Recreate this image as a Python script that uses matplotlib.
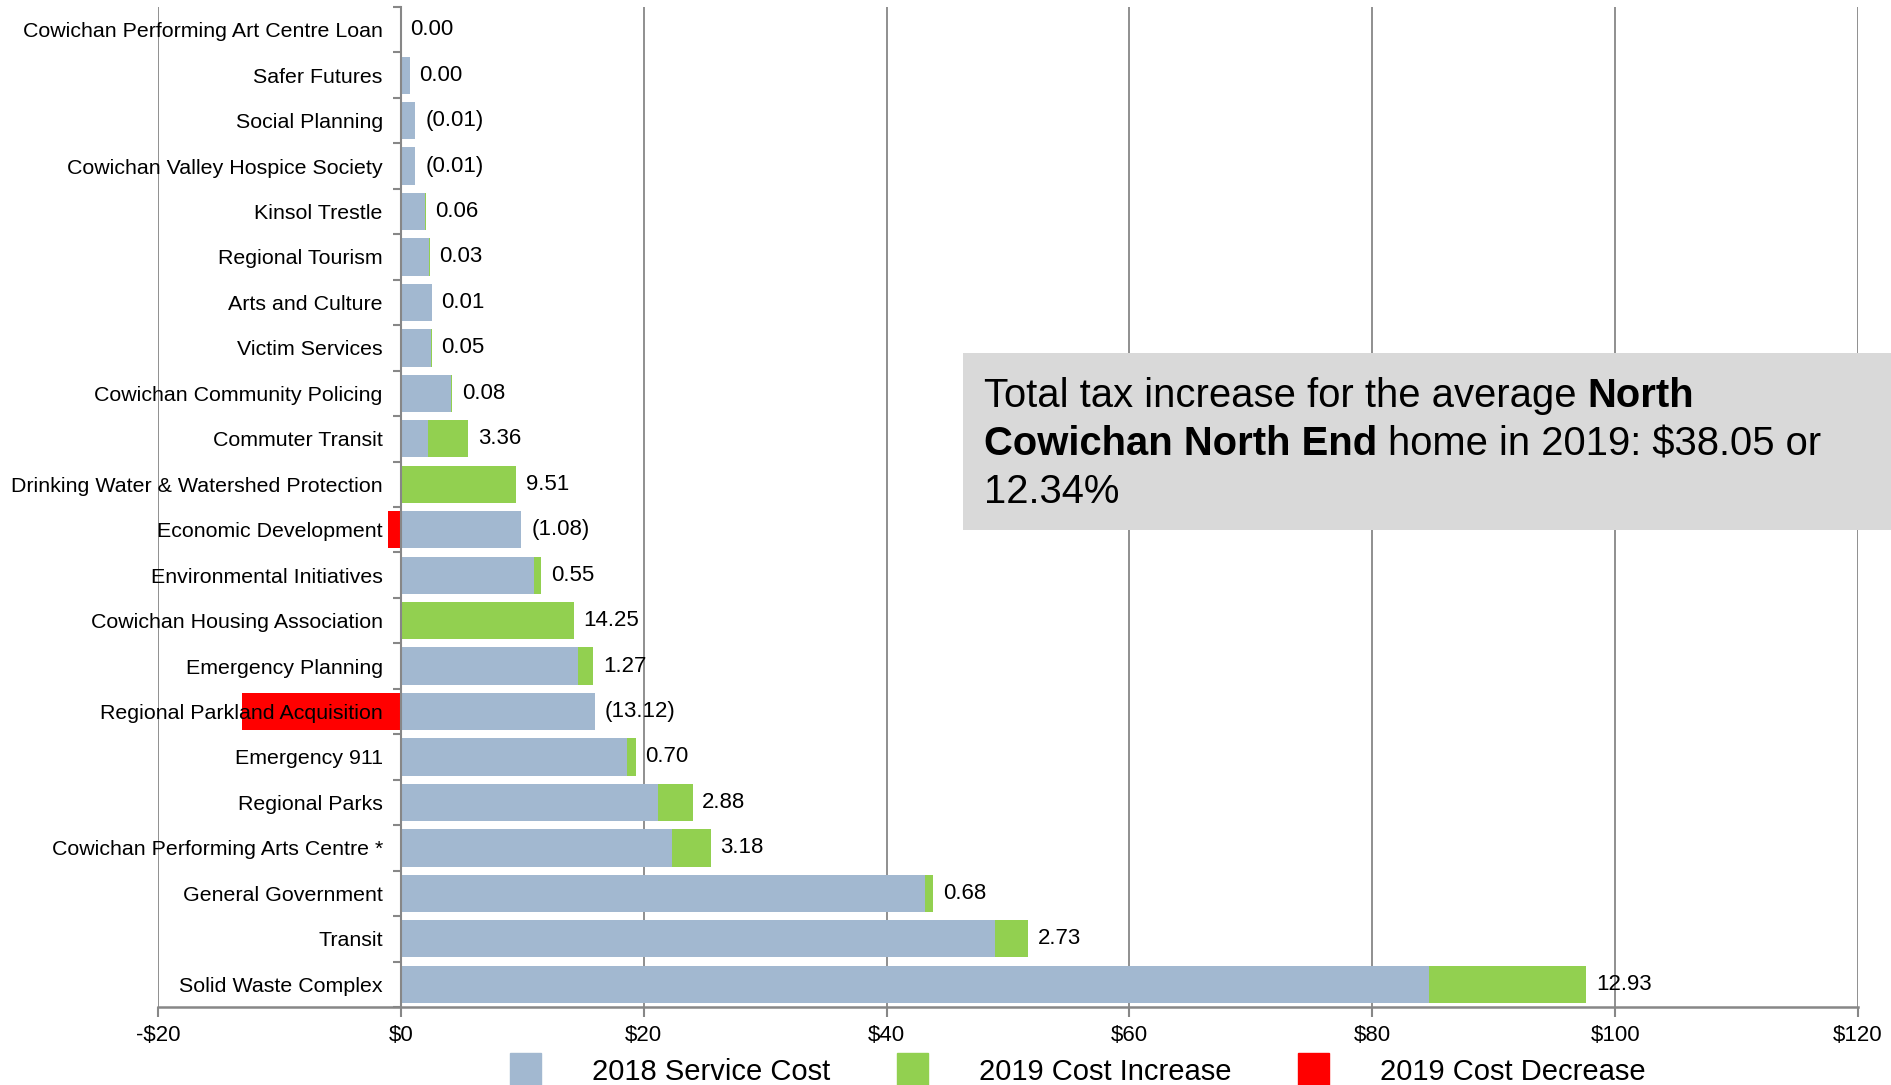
import matplotlib
matplotlib.use("Agg")
import matplotlib.pyplot as plt
import numpy as np
from matplotlib.patches import Rectangle, Patch
from matplotlib.ticker import FuncFormatter, FixedLocator

plt.rcParams['font.family'] = ['Liberation Sans', 'DejaVu Sans']

# services, listed top to bottom
services = ["Cowichan Performing Art Centre Loan", "Safer Futures", "Social Planning",
            "Cowichan Valley Hospice Society", "Kinsol Trestle", "Regional Tourism",
            "Arts and Culture", "Victim Services", "Cowichan Community Policing",
            "Commuter Transit", "Drinking Water & Watershed Protection", "Economic Development",
            "Environmental Initiatives", "Cowichan Housing Association", "Emergency Planning",
            "Regional Parkland Acquisition", "Emergency 911", "Regional Parks",
            "Cowichan Performing Arts Centre *", "General Government", "Transit",
            "Solid Waste Complex"]
cost_2018 = [0.0, 0.72, 1.2, 1.2, 1.97, 2.33, 2.54, 2.5, 4.17, 2.2, 0.0, 9.93,
             11.0, 0.0, 14.56, 15.97, 18.64, 21.15, 22.34, 43.17, 48.94, 84.7]
change_2019 = [0.00, 0.00, -0.01, -0.01, 0.06, 0.03, 0.01, 0.05, 0.08, 3.36, 9.51, -1.08,
               0.55, 14.25, 1.27, -13.12, 0.70, 2.88, 3.18, 0.68, 2.73, 12.93]
x_ticks = [-20, 0, 20, 40, 60, 80, 100, 120]

blue = "#a2b8d0"
green = "#92d050"
red = "#ff0000"
grey = "#878787"

cost = np.array(cost_2018)
chg = np.array(change_2019)
inc = np.where(chg > 0, chg, 0)
dec = np.where(chg < 0, chg, 0)
y = np.arange(len(services))

fig = plt.figure(figsize=(18.91, 10.85), dpi=100)
ax = fig.add_axes([158/1891, 78/1085, 1700/1891, 1000/1085])

h = 0.82
ax.barh(y, cost, height=h, color=blue, zorder=1)
ax.barh(y, inc, left=cost, height=h, color=green, zorder=1)
ax.barh(y, dec, height=h, color=red, zorder=1)

# data labels
for i in range(len(services)):
    end = cost[i] + inc[i]
    v = chg[i]
    txt = f"({abs(v):.2f})" if v < 0 else f"{v:.2f}"
    ax.annotate(txt, (end, y[i]), xytext=(7, 0), textcoords='offset points',
                ha='left', va='center', fontsize=16, zorder=4)

ax.set_xlim(-20, 120)
ax.set_ylim(len(services) - 0.5, -0.5)
ax.set_xticks(x_ticks)
ax.xaxis.set_major_formatter(FuncFormatter(lambda v, p: f"-${abs(v):.0f}" if v < 0 else f"${v:.0f}"))
ax.tick_params(axis='x', length=7, width=1.5, color=grey, labelsize=16, pad=6)

ax.set_yticks(y)
ax.set_yticklabels(services)
ax.yaxis.set_minor_locator(FixedLocator(np.arange(-0.5, len(services), 1)))
ax.tick_params(axis='y', which='major', length=0, pad=13, labelsize=15.4)
ax.tick_params(axis='y', which='minor', length=6, width=1.5, color=grey)

ax.grid(axis='x', color=grey, linewidth=1.3)
ax.set_axisbelow(True)
ax.yaxis.set_zorder(3)

for s in ['top', 'right']:
    ax.spines[s].set_visible(False)
ax.spines['left'].set_position(('data', 0))
ax.spines['left'].set_color(grey)
ax.spines['left'].set_linewidth(1.5)
ax.spines['bottom'].set_color(grey)
ax.spines['bottom'].set_linewidth(1.8)

# summary box
W, H = 1891, 1085
fig.patches.append(Rectangle((963/W, 1 - 530/H), (W - 963)/W, 177/H, transform=fig.transFigure,
                             facecolor="#d9d9d9", edgecolor='none', zorder=5))
fs = 28.8
t1 = fig.text(984/W, 1 - 407/H, "Total tax increase for the average", fontsize=fs,
              va='baseline', zorder=6)
t2 = fig.text(0, 0, "North", fontsize=fs, fontweight='bold', zorder=6)
t3 = fig.text(984/W, 1 - 455/H, "Cowichan North End", fontsize=fs, fontweight='bold',
              va='baseline', zorder=6)
t4 = fig.text(0, 0, "home in 2019: $38.05 or", fontsize=fs, zorder=6)
fig.text(984/W, 1 - 503/H, "12.34%", fontsize=fs, va='baseline', zorder=6)

r = fig.canvas.get_renderer()
sp = 11
for a, b, yb in [(t1, t2, 407), (t3, t4, 455)]:
    bb = a.get_window_extent(renderer=r)
    b.set_position(((bb.x1 + sp)/W, 1 - yb/H))
    b.set_va('baseline')

# legend
handles = [Patch(color=blue, label="2018 Service Cost"),
           Patch(color=green, label="2019 Cost Increase"),
           Patch(color=red, label="2019 Cost Decrease")]
fig.legend(handles=handles, loc='upper center', bbox_to_anchor=(1078/W, 1 - 1053/H),
           ncol=3, frameon=False, fontsize=21, handlelength=1.05, handleheight=1.4,
           handletextpad=1.75, columnspacing=2.3, borderpad=0, borderaxespad=0)

fig.savefig("out.png", dpi=100)
